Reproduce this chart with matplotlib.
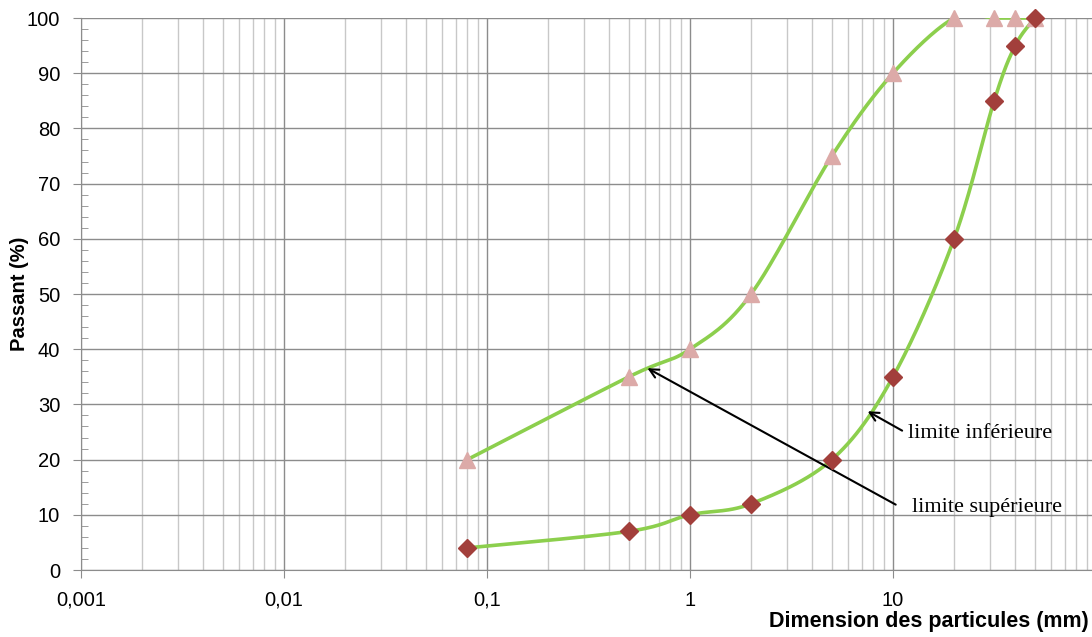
import numpy as np
import matplotlib.pyplot as plt
from matplotlib.ticker import FixedLocator, LogLocator, MultipleLocator, NullFormatter

# sieve sizes (mm) and passing percentages
sizes = [0.08, 0.5, 1, 2, 5, 10, 20, 31.5, 40, 50]
upper = [20, 35, 40, 50, 75, 90, 100, 100, 100, 100]   # limite supérieure
lower = [4, 7, 10, 12, 20, 35, 60, 85, 95, 100]        # limite inférieure

xtick_vals = [0.001, 0.01, 0.1, 1, 10]
xtick_labels = ["0,001", "0,01", "0,1", "1", "10"]

W, H, DPI = 1092, 637, 100
ax_l, ax_r, ax_t, ax_b = 81, 1096, 18, 570


def smooth(xs, ys, n=30):
    # Excel-like smoothed line: Catmull-Rom in screen space (log x)
    u = (np.log10(xs) + 3) / 5 * (ax_r - ax_l)
    v = np.asarray(ys, float) / 100 * (ax_b - ax_t)
    p = np.column_stack([u, v])
    p = np.vstack([p[0], p, p[-1]])
    out = []
    for i in range(1, len(p) - 2):
        p0, p1, p2, p3 = p[i - 1], p[i], p[i + 1], p[i + 2]
        t = np.linspace(0, 1, n)[:, None]
        c = 0.5 * ((2 * p1) + (-p0 + p2) * t + (2 * p0 - 5 * p1 + 4 * p2 - p3) * t ** 2
                   + (-p0 + 3 * p1 - 3 * p2 + p3) * t ** 3)
        out.append(c)
    out = np.vstack(out)
    x = 10 ** (out[:, 0] / (ax_r - ax_l) * 5 - 3)
    y = out[:, 1] / (ax_b - ax_t) * 100
    return x, y


fig = plt.figure(figsize=(W / DPI, H / DPI), dpi=DPI)
ax = fig.add_axes([ax_l / W, (H - ax_b) / H, (ax_r - ax_l) / W, (ax_b - ax_t) / H])
ax.set_xscale("log")
ax.set_xlim(0.001, 100)
ax.set_ylim(0, 100)

green = "#8ccf4d"
xs, ys = smooth(sizes, upper)
ax.plot(xs, ys, color=green, lw=2.6, zorder=3)
xs, ys = smooth(sizes, lower)
ax.plot(xs, ys, color=green, lw=2.6, zorder=3)
ax.plot(sizes, upper, ls="none", marker="^", ms=12, color="#dcaaa8", zorder=4, clip_on=False)
ax.plot(sizes, lower, ls="none", marker="D", ms=9.5, color="#a23f3b", zorder=5, clip_on=False)

ax.xaxis.set_major_locator(FixedLocator(xtick_vals))
ax.set_xticklabels(xtick_labels)
ax.xaxis.set_minor_locator(LogLocator(base=10, subs=np.arange(2, 10)))
ax.xaxis.set_minor_formatter(NullFormatter())
ax.yaxis.set_major_locator(MultipleLocator(10))
ax.yaxis.set_minor_locator(MultipleLocator(2))

ax.grid(True, which="major", color="#8c8c8c", lw=1.0)
ax.grid(True, which="minor", axis="x", color="#c8c8c8", lw=1.0)
ax.set_axisbelow(True)

for s in ["top", "right"]:
    ax.spines[s].set_visible(False)
for s in ["left", "bottom"]:
    ax.spines[s].set_color("#8c8c8c")

ax.tick_params(axis="y", which="major", direction="out", length=6, color="#8c8c8c", labelsize=14.5, pad=9)
ax.tick_params(axis="y", which="minor", direction="in", length=5, color="#8c8c8c")
ax.tick_params(axis="x", which="major", direction="out", length=6, color="#8c8c8c", labelsize=14.5, pad=9)
ax.tick_params(axis="x", which="minor", length=0)
for lab in ax.get_xticklabels() + ax.get_yticklabels():
    lab.set_family("Liberation Sans")

ax.set_ylabel("Passant (%)", fontsize=14.5, fontweight="bold", family="Liberation Sans")
ax.yaxis.set_label_coords(-0.051, 0.5)
fig.text(1089 / W, (H - 621) / H, "Dimension des particules (mm)", ha="right", va="center",
         fontsize=15.5, fontweight="bold", family="Liberation Sans")

# annotations
ax.annotate("", xy=(7.3, 29.0), xytext=(11.4, 25.0),
            arrowprops=dict(arrowstyle="->", color="black", lw=1.5, mutation_scale=16))
ax.text(11.9, 24.8, "limite inférieure", fontsize=16, family="Liberation Serif", va="center", ha="left")
ax.annotate("", xy=(0.6, 36.8), xytext=(10.6, 11.6),
            arrowprops=dict(arrowstyle="->", color="black", lw=1.5, mutation_scale=16))
ax.text(12.4, 11.4, "limite supérieure", fontsize=16, family="Liberation Serif", va="center", ha="left")

fig.savefig("out.png", dpi=DPI)
